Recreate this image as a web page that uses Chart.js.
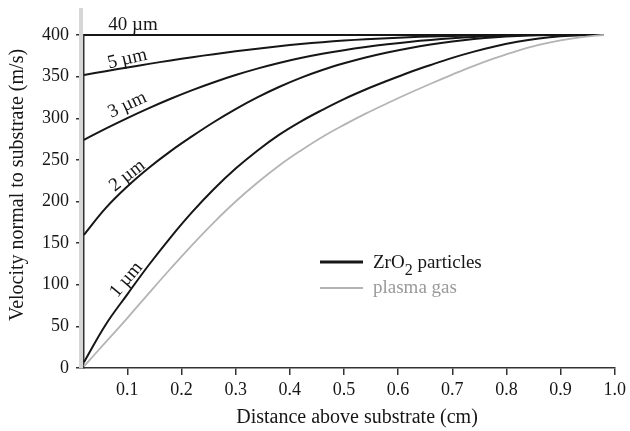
<!DOCTYPE html>
<html><head><meta charset="utf-8">
<script src="https://cdn.jsdelivr.net/npm/chart.js@4.4.0/dist/chart.umd.min.js"></script>
<style>html,body{margin:0;padding:0;background:#fff;}canvas{display:block;}</style>
</head><body>
<canvas id="c" width="630" height="431"></canvas>
<script>
// ---- data ----
const distance = [0.02,0.06,0.10,0.14,0.18,0.22,0.26,0.30,0.34,0.38,0.42,0.46,0.50,0.54,0.58,0.62,0.66,0.70,0.74,0.78,0.82,0.86,0.90,0.94,0.98];
const v40um = [400,400,400,400,400,400,400,400,400,400,400,400,400,400,400,400,400,400,400,400,400,400,400,400,400];
const v5um  = [352,356.5,361,365.3,369.5,373.4,377,380.4,383.6,386.5,389.1,391.4,393.3,394.9,396.2,397.3,398.2,398.9,399.4,399.8,400,400,400,400,400];
const v3um  = [274,287.5,300.2,312.2,323.4,333.8,343.3,351.9,359.6,366.4,372.3,377.4,381.8,385.6,388.9,391.7,394.1,396.1,397.7,398.9,399.7,400,400,400,400];
const v2um  = [160,192,218,240.5,260.5,278.5,295.5,311,325,337.5,348.5,358,366,373,379,384.2,388.6,392.2,395.1,397.3,398.8,399.7,400,400,400];
const v1um  = [7,52,88.5,124,157,187.5,215,239.5,261,280,296,310,323,334.5,345,355,364,372.5,380,386.5,391.8,395.8,398.4,399.7,400];
const plasmaGas = [2,31,60,90,119.5,148,175,200,222.5,243,261,277.5,292,305.5,318,330,341.5,352.5,363,372.5,381,388,393.5,397.5,400];
const xTicks = [0.1,0.2,0.3,0.4,0.5,0.6,0.7,0.8,0.9,1.0];
const yTicks = [0,50,100,150,200,250,300,350,400];
const curveNames = ['40 µm','5 µm','3 µm','2 µm','1 µm'];
const legendNames = ['ZrO', '2', ' particles', 'plasma gas'];
const xTitle = 'Distance above substrate (cm)';
const yTitle = 'Velocity normal to substrate (m/s)';

// ---- presentation ----
const FONT = '"Liberation Serif", "Times New Roman", serif';
const INK = '#161616';
const GREY = '#b4b4b4';
const pts = arr => distance.map((x, i) => ({x, y: arr[i]}));

// label anchors in data coordinates: [x, y, angle(deg), align]
const labelPlace = [
  [0.065, 412, 0, 'left'],
  [0.100, 371, -13, 'center'],
  [0.100, 316, -25, 'center'],
  [0.100, 231, -38, 'center'],
  [0.098, 106, -50, 'center']
];

const deco = {
  id: 'deco',
  beforeDatasetsDraw(chart) {
    const {ctx, chartArea} = chart;
    ctx.save();
    ctx.fillStyle = '#d6d6d6';
    ctx.fillRect(chartArea.left - 5, 8, 4, chartArea.bottom - 8);
    ctx.restore();
  },
  afterDraw(chart) {
    const {ctx, scales} = chart;
    const xs = scales.x, ys = scales.y;
    ctx.save();
    ctx.fillStyle = INK;
    // axis titles
    ctx.font = '20px ' + FONT;
    ctx.textAlign = 'center';
    ctx.textBaseline = 'middle';
    ctx.fillText(xTitle, 357, 418);
    ctx.save();
    ctx.translate(18, 185);
    ctx.rotate(-Math.PI / 2);
    ctx.fillText(yTitle, 0, 0);
    ctx.restore();
    // curve labels
    ctx.font = '19px ' + FONT;
    curveNames.forEach((t, i) => {
      const [x, y, a, al] = labelPlace[i];
      ctx.save();
      ctx.translate(xs.getPixelForValue(x), ys.getPixelForValue(y));
      ctx.rotate(a * Math.PI / 180);
      ctx.textAlign = al;
      ctx.textBaseline = 'middle';
      ctx.fillText(t, 0, 0);
      ctx.restore();
    });
    // legend
    ctx.lineCap = 'butt';
    ctx.strokeStyle = INK; ctx.lineWidth = 3;
    ctx.beginPath(); ctx.moveTo(320, 262); ctx.lineTo(363, 262); ctx.stroke();
    ctx.strokeStyle = GREY; ctx.lineWidth = 2;
    ctx.beginPath(); ctx.moveTo(320, 288); ctx.lineTo(363, 288); ctx.stroke();
    ctx.textAlign = 'left';
    ctx.textBaseline = 'alphabetic';
    ctx.fillStyle = INK;
    ctx.font = '19px ' + FONT;
    let x = 373;
    ctx.fillText(legendNames[0], x, 268); x += ctx.measureText(legendNames[0]).width;
    ctx.font = '16px ' + FONT;
    ctx.fillText(legendNames[1], x, 275); x += ctx.measureText(legendNames[1]).width;
    ctx.font = '19px ' + FONT;
    ctx.fillText(legendNames[2], x, 268);
    ctx.fillStyle = '#9a9a9a';
    ctx.fillText(legendNames[3], 373, 293);
    ctx.restore();
  }
};

const lineDs = (label, arr, color, w) => ({
  label, data: pts(arr), borderColor: color, borderWidth: w,
  pointRadius: 0, fill: false, tension: 0.4, clip: false
});

new Chart(document.getElementById('c'), {
  type: 'line',
  data: {
    datasets: [
      lineDs('plasma gas', plasmaGas, GREY, 1.8),
      lineDs(curveNames[4], v1um, INK, 2),
      lineDs(curveNames[3], v2um, INK, 2),
      lineDs(curveNames[2], v3um, INK, 2),
      lineDs(curveNames[1], v5um, INK, 2),
      lineDs(curveNames[0], v40um, INK, 2)
    ]
  },
  options: {
    responsive: false,
    animation: false,
    events: [],
    layout: {padding: {left: 0, right: 13, top: 35, bottom: 0}},
    plugins: {legend: {display: false}, tooltip: {enabled: false}},
    scales: {
      x: {
        type: 'linear', min: 0.02, max: 1.0,
        afterBuildTicks(s) { s.ticks = xTicks.map(v => ({value: v})); },
        afterFit(s) { s.height = 63; },
        grid: {drawOnChartArea: false, drawTicks: true, tickLength: 7, color: '#333', lineWidth: 1.5},
        border: {display: true, color: '#333', width: 1.5},
        ticks: {color: INK, font: {family: FONT, size: 18}, padding: 4, maxRotation: 0,
                callback: v => v.toFixed(1)}
      },
      y: {
        type: 'linear', min: 0, max: 400,
        afterBuildTicks(s) { s.ticks = yTicks.map(v => ({value: v})); },
        afterFit(s) { s.width = 84; },
        grid: {drawOnChartArea: false, drawTicks: true, tickLength: 8, color: '#333', lineWidth: 1.5},
        border: {display: true, color: '#333', width: 1.5},
        ticks: {color: INK, font: {family: FONT, size: 18}, padding: 7}
      }
    }
  },
  plugins: [deco]
});
</script>
</body></html>
